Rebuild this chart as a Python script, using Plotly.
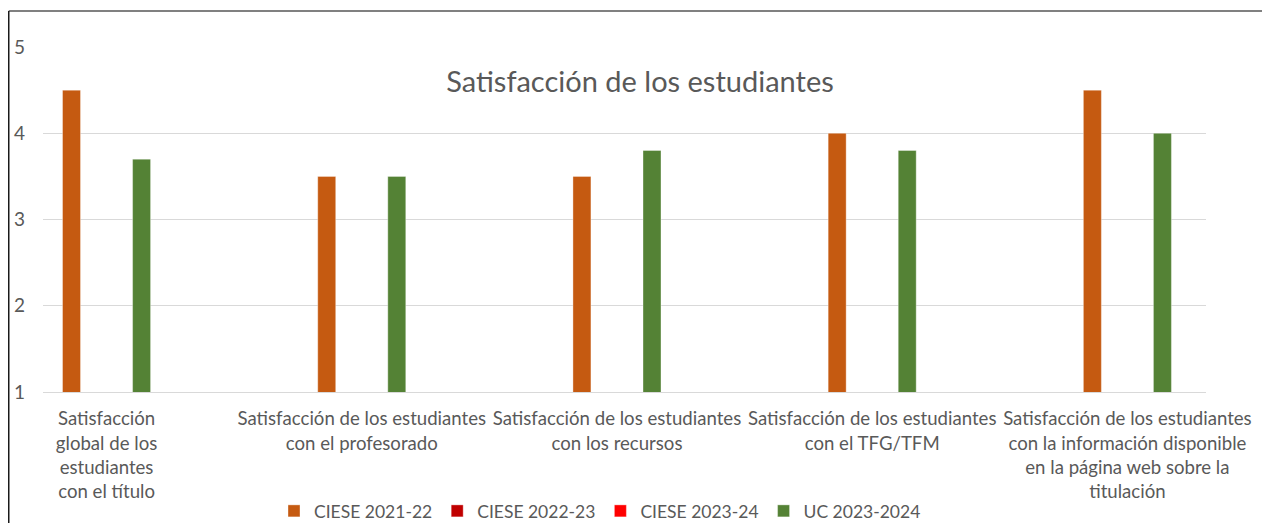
import plotly.graph_objects as go

categories = [
    "Satisfacción<br>global de los<br>estudiantes<br>con el título",
    "Satisfacción de los estudiantes<br>con el profesorado",
    "Satisfacción de los estudiantes<br>con los recursos",
    "Satisfacción de los estudiantes<br>con el TFG/TFM",
    "Satisfacción de los estudiantes<br>con la información disponible<br>en la página web sobre la<br>titulación",
]
series_names = ["CIESE 2021-22", "CIESE 2022-23", "CIESE 2023-24", "UC 2023-2024"]
ciese_2021_22 = [4.5, 3.5, 3.5, 4.0, 4.5]
ciese_2022_23 = [None, None, None, None, None]
ciese_2023_24 = [None, None, None, None, None]
uc_2023_2024 = [3.7, 3.5, 3.8, 3.8, 4.0]
colors = ["#C55A11", "#C00000", "#FF0000", "#548235"]

fig = go.Figure()
for name, vals, col in zip(series_names,
                           [ciese_2021_22, ciese_2022_23, ciese_2023_24, uc_2023_2024],
                           colors):
    fig.add_trace(go.Bar(x=categories, y=vals, name=name, marker_color=col,
                         marker_line_width=0.6, marker_line_color="rgba(255,255,255,0.6)"))

# page body adds an 8px offset, so layout is expressed 8px up/left of the reference
L, R, T, B = 35, 1198, 39, 384
PW, PH = R - L, B - T

fig.update_layout(
    width=1270, height=523,
    margin=dict(l=L, r=1270 - R, t=T, b=523 - B, autoexpand=False),
    paper_bgcolor="white", plot_bgcolor="white",
    barmode="group", bargap=0.634, bargroupgap=0.23,
    font=dict(family="Lato, Calibri, sans-serif", color="#595959", size=18.6),
    title=dict(text="Satisfacción de los estudiantes", x=632 / 1270, xanchor="center",
               y=1 - 74 / 523, yanchor="middle", yref="container",
               font=dict(size=29, color="#595959")),
    showlegend=True,
    legend=dict(orientation="h", x=(592 - L) / PW, xanchor="center",
                y=(B - 503) / PH, yanchor="middle",
                font=dict(size=17.5, color="#595959"), traceorder="normal"),
    xaxis=dict(range=[-0.249, 4.308], showgrid=False, showline=True, linecolor="#d9d9d9",
               linewidth=1, ticks="", tickangle=0, ticklabelstandoff=10,
               tickfont=dict(size=18.6, color="#595959")),
    yaxis=dict(range=[1, 5], dtick=1, showgrid=True, gridcolor="#d9d9d9", gridwidth=1,
               zeroline=False, showline=False, ticks="", ticklabelstandoff=17,
               tickfont=dict(size=19, color="#595959")),
)

x_left = (0.75 - L) / PW
x_right = (1260 - L) / PW
y_top = (B - 3) / PH
y_bot = -0.6
fig.add_shape(type="line", xref="paper", yref="paper", x0=x_left, x1=x_right, y0=y_top, y1=y_top,
              line=dict(color="#808080", width=2))
fig.add_shape(type="line", xref="paper", yref="paper", x0=x_left, x1=x_left, y0=y_bot, y1=y_top,
              line=dict(color="#1a1a1a", width=1.5))
fig.add_shape(type="line", xref="paper", yref="paper", x0=x_right, x1=x_right, y0=y_bot, y1=y_top,
              line=dict(color="#1a1a1a", width=1.5))

fig.write_html("out.html")
